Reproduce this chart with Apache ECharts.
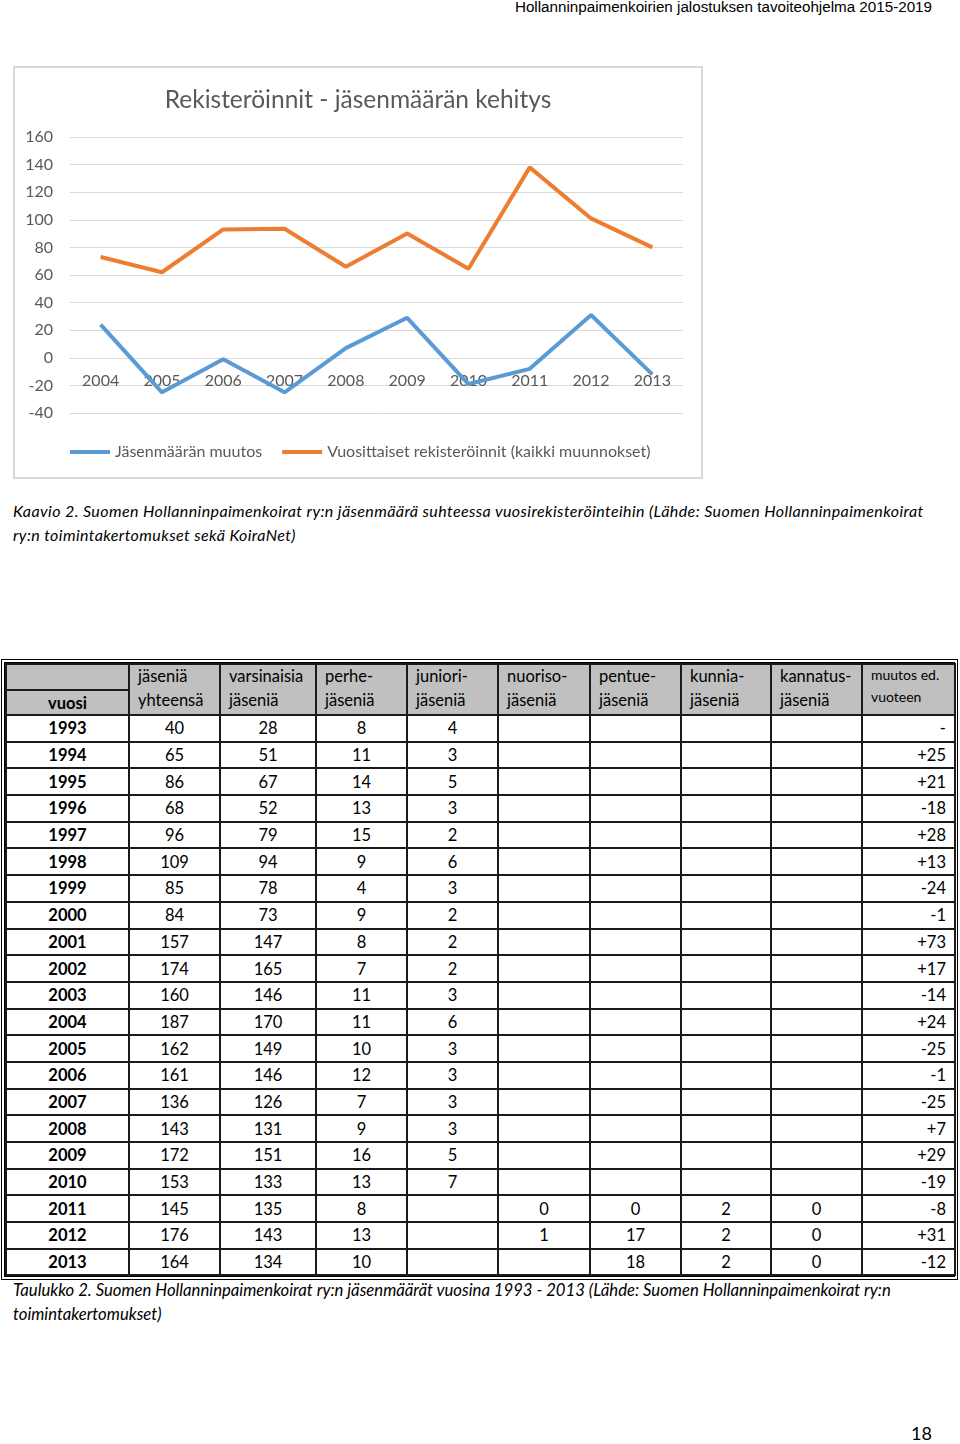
<!DOCTYPE html>
<html>
<head>
<meta charset="utf-8">
<script src="https://cdn.jsdelivr.net/npm/echarts@6/dist/echarts.min.js"></script>
<style>
  html, body { margin:0; padding:0; background:#fff; }
  body { width:960px; height:1444px; position:relative; overflow:hidden; font-family: Lato, "Open Sans", sans-serif; }
  #hdr { position:absolute; right:28px; top:-2px; font-family:"Liberation Sans", Arial, sans-serif; font-size:15.2px; color:#000; white-space:nowrap; }
  #chartbox { position:absolute; left:13px; top:66px; width:686px; height:409px; border:2px solid #d9d9d9; background:#fff; }
  #chart { position:absolute; left:0; top:0; width:686px; height:409px; }
  .cap { position:absolute; left:13px; font-style:italic; line-height:24px; color:#000; white-space:nowrap; }
  #tablewrap { position:absolute; left:1px; top:659px; width:949px; border:4px double #000; }
  table { border-collapse:collapse; width:100%; table-layout:fixed; font-size:16.5px; }
  td, th { border:2px solid #1a1a1a; padding:0 6px; height:24.7px; line-height:20px; font-weight:normal; }
  thead td { background:#c0c0c0; vertical-align:bottom; text-align:left; padding:0 8px; }
  tbody td { text-align:center; }
  tbody td.yr { font-weight:bold; }
  tbody td.chg { text-align:right; padding-right:8px; }
  #pg { position:absolute; right:28px; top:1422px; font-size:18px; }
</style>
</head>
<body>
<div id="hdr">Hollanninpaimenkoirien jalostuksen tavoiteohjelma 2015-2019</div>
<div id="chartbox"><div id="chart"></div></div>
<div class="cap" style="top:499px;font-size:16px;letter-spacing:0.4px">Kaavio 2. Suomen Hollanninpaimenkoirat ry:n jäsenmäärä suhteessa vuosirekisteröinteihin (Lähde: Suomen Hollanninpaimenkoirat<br>ry:n toimintakertomukset sekä KoiraNet)</div>
<div id="tablewrap"><table id="tbl"></table></div>
<div class="cap" style="top:1278px;font-size:16.7px">Taulukko 2. Suomen Hollanninpaimenkoirat ry:n jäsenmäärät vuosina 1993 - 2013 (Lähde: Suomen Hollanninpaimenkoirat ry:n<br>toimintakertomukset)</div>
<div id="pg">18</div>
<script>
// ---- Chart data ----
const chartTitle = 'Rekisteröinnit - jäsenmäärän kehitys';
const chartYears = ['2004','2005','2006','2007','2008','2009','2010','2011','2012','2013'];
const memberChange = [24, -25, -1, -25, 7, 29, -19, -8, 31, -12];
const registrations = [73, 62, 93, 93.5, 66, 90, 64.5, 138, 101, 80];
const seriesNames = ['Jäsenmäärän muutos', 'Vuosittaiset rekisteröinnit (kaikki muunnokset)'];
const yTicks = { min: -40, max: 160, interval: 20 };

// ---- Table data ----
const headerLabels = [['', 'vuosi'], ['jäseniä','yhteensä'], ['varsinaisia','jäseniä'], ['perhe-','jäseniä'], ['juniori-','jäseniä'], ['nuoriso-','jäseniä'], ['pentue-','jäseniä'], ['kunnia-','jäseniä'], ['kannatus-','jäseniä'], ['muutos ed.','vuoteen']];
const tableYears = [1993,1994,1995,1996,1997,1998,1999,2000,2001,2002,2003,2004,2005,2006,2007,2008,2009,2010,2011,2012,2013];
const totalMembers = [40,65,86,68,96,109,85,84,157,174,160,187,162,161,136,143,172,153,145,176,164];
const regularMembers = [28,51,67,52,79,94,78,73,147,165,146,170,149,146,126,131,151,133,135,143,134];
const familyMembers = [8,11,14,13,15,9,4,9,8,7,11,11,10,12,7,9,16,13,8,13,10];
const juniorMembers = [4,3,5,3,2,6,3,2,2,2,3,6,3,3,3,3,5,7,'','',''];
const youthMembers = ['','','','','','','','','','','','','','','','','','',0,1,''];
const litterMembers = ['','','','','','','','','','','','','','','','','','',0,17,18];
const honoraryMembers = ['','','','','','','','','','','','','','','','','','',2,2,2];
const supportMembers = ['','','','','','','','','','','','','','','','','','',0,0,0];
const changeFromPrev = ['-','+25','+21','-18','+28','+13','-24','-1','+73','+17','-14','+24','-25','-1','-25','+7','+29','-19','-8','+31','-12'];

// ---- Build table ----
(function(){
  const colW = [123,91,96,91,91,92,91,90,91,93];
  const tbl = document.getElementById('tbl');
  let html = '<colgroup>' + colW.map(w => '<col style="width:'+w+'px">').join('') + '</colgroup><thead>';
  html += '<tr><td style="height:24px"></td>';
  for (let i = 1; i < headerLabels.length; i++) {
    const small = i === headerLabels.length - 1;
    html += '<td rowspan="2" style="vertical-align:top;padding-top:0;' + (small ? 'font-size:14px;' : '') + '"><div style="margin-top:-1px;line-height:' + (small ? 22 : 24) + 'px">' + headerLabels[i][0] + '<br>' + headerLabels[i][1] + '</div></td>';
  }
  html += '</tr><tr><td style="height:23px;font-weight:bold;text-align:center;vertical-align:middle;">' + headerLabels[0][1] + '</td></tr></thead><tbody>';
  for (let r = 0; r < tableYears.length; r++) {
    html += '<tr><td class="yr">' + tableYears[r] + '</td><td>' + totalMembers[r] + '</td><td>' + regularMembers[r] +
      '</td><td>' + familyMembers[r] + '</td><td>' + juniorMembers[r] + '</td><td>' + youthMembers[r] +
      '</td><td>' + litterMembers[r] + '</td><td>' + honoraryMembers[r] + '</td><td>' + supportMembers[r] +
      '</td><td class="chg">' + changeFromPrev[r] + '</td></tr>';
  }
  html += '</tbody>';
  tbl.innerHTML = html;
})();

// ---- Chart ----
const chart = echarts.init(document.getElementById('chart'), null, { renderer: 'canvas' });
const gray = '#595959';
chart.setOption({
  animation: false,
  textStyle: { fontFamily: 'Lato, "Open Sans", sans-serif' },
  title: {
    text: chartTitle, left: 'center', top: 15,
    textStyle: { color: gray, fontSize: 24.5, fontWeight: 'normal', fontFamily: 'Lato, sans-serif' }
  },
  grid: { left: 55, right: 18, top: 69, bottom: 64 },
  legend: {
    data: seriesNames, left: 50, top: 371, itemWidth: 40, itemHeight: 4, itemGap: 20, icon: 'rect',
    textStyle: { color: gray, fontSize: 16 }
  },
  xAxis: {
    type: 'category', data: chartYears, boundaryGap: true,
    offset: -55,
    axisLine: { onZero: false, lineStyle: { color: '#d9d9d9', width: 1 } },
    axisTick: { show: false },
    axisLabel: { color: gray, fontSize: 16, margin: 15 }
  },
  yAxis: {
    type: 'value', min: yTicks.min, max: yTicks.max, interval: yTicks.interval,
    axisLine: { show: false }, axisTick: { show: false },
    axisLabel: { color: gray, fontSize: 16, margin: 17 },
    splitLine: { lineStyle: { color: '#d9d9d9', width: 1 } }
  },
  series: [
    { name: seriesNames[0], type: 'line', data: memberChange, symbol: 'none', z: 3, lineStyle: { width: 4, color: '#5b9bd5' }, itemStyle: { color: '#5b9bd5' } },
    { name: seriesNames[1], type: 'line', data: registrations, symbol: 'none', z: 3, lineStyle: { width: 4, color: '#ed7d31' }, itemStyle: { color: '#ed7d31' } }
  ]
});
</script>
</body>
</html>
